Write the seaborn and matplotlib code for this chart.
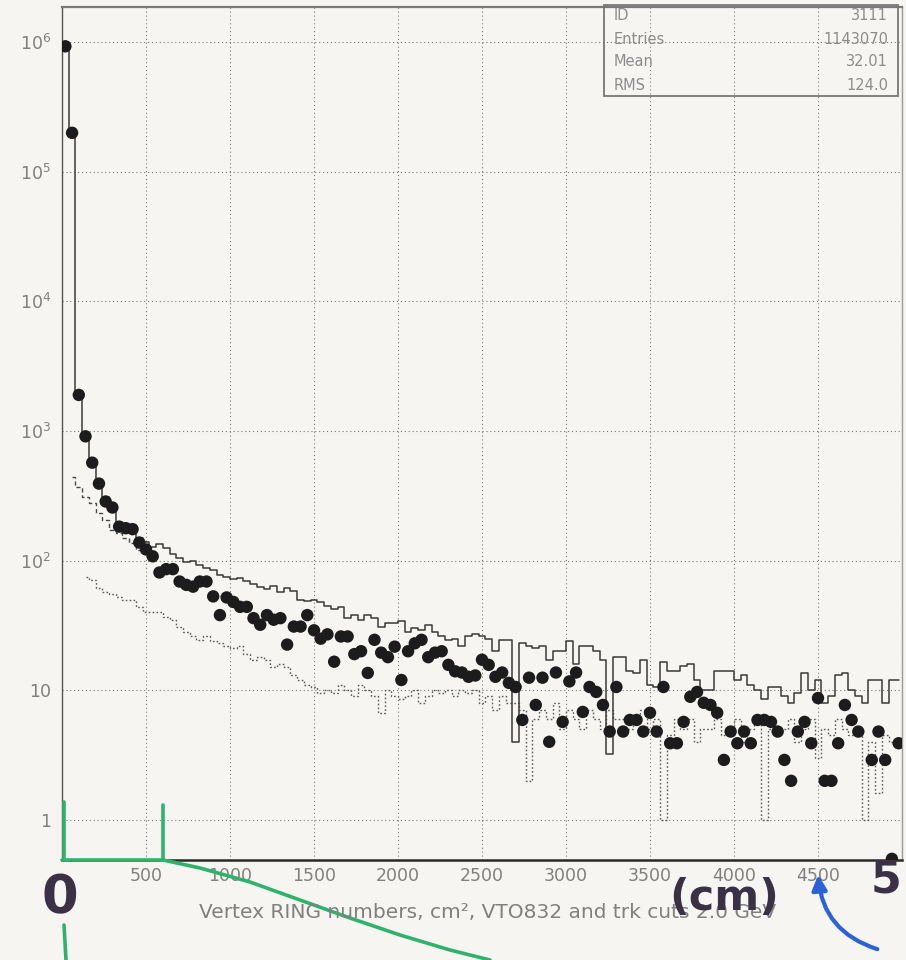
import numpy as np
import matplotlib
matplotlib.use("Agg")
import matplotlib.pyplot as plt
import seaborn as sns
from matplotlib.lines import Line2D
from matplotlib.patches import Rectangle, FancyArrowPatch
from matplotlib.ticker import FixedLocator, NullFormatter, LogLocator

# ---- histogram data: 125 bins of 40 cm between 0 and 5000 ----
bin_lo, bin_hi, n_bins = 0.0, 5000.0, 125

# data points (filled circles)
data_counts = [
    930000, 200000, 1900, 910, 570, 393, 286, 257, 183, 178,
    175, 138, 122, 108, 81, 86, 86, 69, 65, 63,
    69, 69, 53, 38, 52, 48, 44, 44, 36, 32,
    38, 35, 36, 22.5, 31, 31, 38, 29, 25, 27,
    16.6, 26, 26, 19, 20, 13.6, 24.5, 19.5, 18, 21.7,
    12, 20, 23, 24.5, 18, 19.5, 20, 15.7, 14, 13.7,
    12.7, 13, 17.2, 15.7, 12.7, 13.7, 11.4, 10.6, 5.9, 12.5,
    7.7, 12.5, 4.0, 13.7, 5.7, 11.7, 13.7, 6.8, 10.6, 9.7,
    7.7, 4.8, 10.6, 4.8, 5.9, 5.9, 4.8, 6.7, 4.8, 10.6,
    3.9, 3.9, 5.7, 8.9, 9.7, 8.0, 7.7, 6.7, 2.9, 4.8,
    3.9, 4.8, 3.9, 5.9, 5.9, 5.7, 4.8, 2.9, 2.0, 4.8,
    5.7, 3.9, 8.7, 2.0, 2.0, 3.9, 7.7, 5.9, 4.8, np.nan,
    2.9, 4.8, 2.9, 0.5, 3.9,
]

# total histogram (solid line)
total_counts = [
    930000, 200000, 2000, 960, 600, 420, 310, 270, 200, 190,
    185, 150, 140, 128, 135, 125, 112, 105, 98, 100,
    92, 88, 84, 78, 75, 72, 74, 70, 66, 63,
    60, 64, 57, 62, 58, 50, 49, 50, 48, 45,
    42, 44, 36, 38, 35, 38, 36, 31, 33, 33,
    34, 28, 30, 29, 32, 28, 26, 24.5, 25, 22,
    26, 27, 26, 25, 20, 24.5, 24.5, 4, 23, 22,
    21, 22, 17, 20, 20, 24, 16, 22, 22, 20,
    17, 3.2, 18, 18, 14, 13.7, 17, 11, 10.5, 16.6,
    14, 14, 15.5, 16, 12, 10, 10, 14, 14, 14,
    12, 13, 11, 10, 8.5, 10.5, 10.5, 9, 8, 9.5,
    13.7, 10, 12, 8, 9, 13, 13.7, 10, 9, 8,
    12, 12, 8, 12, 12,
]

# background histogram (dotted line), first filled bin is bin 3
bkg_first_bin = 3
bkg_counts = [
    75, 71, 62, 57, 55, 52, 50, 50, 44, 40,
    40, 40, 37, 35, 31, 28, 26, 24.5, 26, 24,
    23, 22, 21, 22, 19, 17, 18, 17, 15, 16,
    15, 13, 12, 11, 10.6, 9.5, 10, 9.5, 11, 10,
    9, 11, 10, 9, 6.7, 10, 9, 8.5, 9, 10,
    8, 9, 10, 9.5, 10, 9, 10, 9.5, 10, 8,
    9, 7, 9, 8, 8, 7, 2, 6, 7, 6,
    8, 5, 7, 6, 5, 7, 6, 5, 7, 6,
    6, 5, 6, 7, 5, 6, 1.0, 4.5, 6, 5,
    6, 4, 5, 5, 6, 4.5, 5, 6, 4, 5,
    6, 1.0, 5, 4.5, 5, 6, 4, 5, 6, 3,
    5, 4.5, 6, 5, 4.5, 5, 1.0, 4, 1.6, 4.5,
    4, 4,
]

# fitted low-radius component (dashed), bins 1..13
fit_first_bin = 1
fit_counts = [440, 370, 310, 280, 235, 207, 173, 164, 150, 138, 121, 115, 105]

# statistics box
stat_names = ["ID", "Entries", "Mean", "RMS"]
stat_values = ["3111", "1143070", "32.01", "124.0"]

x_tick_values = [500, 1000, 1500, 2000, 2500, 3000, 3500, 4000, 4500]
y_tick_values = [1, 10, 100, 1000, 10000, 100000, 1000000]
y_tick_labels = ["1", "10", r"10$^{2}$", r"10$^{3}$", r"10$^{4}$", r"10$^{5}$", r"10$^{6}$"]
x_title = "Vertex RING numbers, cm\u00b2, VTO832 and trk cuts 2.0 GeV"

# ---- figure ----
sns.set_style("white")
plt.rcParams["font.family"] = ["DejaVu Sans"]

W, H = 906, 960
paper = "#f6f5f2"
ink = "#1c1c1c"
label_grey = "#808080"

fig = plt.figure(figsize=(W / 100, H / 100), dpi=100, facecolor=paper)
ax = fig.add_axes([62 / W, 1 - 860 / H, (902 - 62) / W, (860 - 7) / H])
ax.set_facecolor(paper)
ax.set_yscale("log")

edges = np.linspace(bin_lo, bin_hi, n_bins + 1)
centers = 0.5 * (edges[:-1] + edges[1:])

# background histogram (dotted)
bx = centers[bkg_first_bin:bkg_first_bin + len(bkg_counts)]
sns.lineplot(x=bx, y=bkg_counts, ax=ax, drawstyle="steps-mid", color="#5a5a5a",
             linewidth=1.0, linestyle=(0, (1.2, 1.6)), estimator=None, sort=False)

# fitted component (dashed)
fx = centers[fit_first_bin:fit_first_bin + len(fit_counts)]
sns.lineplot(x=fx, y=fit_counts, ax=ax, drawstyle="steps-mid", color="#4a4a4a",
             linewidth=1.0, linestyle=(0, (3, 2)), estimator=None, sort=False)

# total histogram (solid)
sns.lineplot(x=centers, y=total_counts, ax=ax, drawstyle="steps-mid", color="#3a3a3a",
             linewidth=1.1, estimator=None, sort=False)

# data points
sns.scatterplot(x=centers, y=data_counts, ax=ax, s=80, color=ink, edgecolor="none",
                linewidth=0, zorder=5, clip_on=True)

# ---- axes ----
ax.set_xlim(bin_lo, bin_hi)
ax.set_ylim(0.49, 1.87e6)

ax.xaxis.set_major_locator(FixedLocator(np.arange(0, 5001, 500)))
ax.xaxis.set_minor_locator(FixedLocator(np.arange(0, 5001, 100)))
ax.set_xticklabels(["" if v not in x_tick_values else str(v) for v in np.arange(0, 5001, 500)])
ax.yaxis.set_major_locator(FixedLocator(y_tick_values))
ax.set_yticklabels(y_tick_labels)
ax.yaxis.set_minor_locator(LogLocator(base=10, subs=np.arange(2, 10)))
ax.yaxis.set_minor_formatter(NullFormatter())

ax.tick_params(axis="x", which="major", direction="in", length=11, width=0.9,
               color="#333333", labelsize=12.5, labelcolor=label_grey, pad=5)
ax.tick_params(axis="x", which="minor", direction="in", length=5, width=0.8, color="#444444")
ax.tick_params(axis="y", which="major", direction="in", length=9, width=0.9,
               color="#444444", labelsize=12.5, labelcolor=label_grey, pad=8)
ax.tick_params(axis="y", which="minor", direction="in", length=4, width=0.8, color="#555555")

ax.grid(True, which="major", color="#777777", linewidth=0.8, linestyle=(0, (1, 2.5)))

for side, col, lw in [("bottom", "#2a2a2a", 1.8), ("left", "#555555", 1.0),
                      ("top", "#7a7a7a", 1.6), ("right", "#9a9a9a", 1.0)]:
    ax.spines[side].set_color(col)
    ax.spines[side].set_linewidth(lw)

ax.set_xlabel("")
ax.set_ylabel("")
fig.text(488 / W, 1 - 913 / H, x_title, ha="center", va="center",
         fontsize=14.5, color=label_grey)

# ---- statistics box ----
bx0, by0, bx1, by1 = 604, 5, 898, 96
fig.add_artist(Rectangle((bx0 / W, 1 - by1 / H), (bx1 - bx0) / W, (by1 - by0) / H,
                         transform=fig.transFigure, fill=False, edgecolor="#777777",
                         linewidth=1.3))
row_y = [16, 39, 62, 85]
for name, val, yy in zip(stat_names, stat_values, row_y):
    fig.text(614 / W, 1 - yy / H, name, ha="left", va="center", fontsize=10.5,
             color="#8c8c8c")
    fig.text(888 / W, 1 - yy / H, val, ha="right", va="center", fontsize=10.5,
             color="#8c8c8c")

# ---- pen marks on the printout ----
def px(x, y):
    return x / W, 1 - y / H

green = "#2fb36c"
for xs, ys in [([64, 64], [802, 860]), ([64, 66], [925, 960]),
               ([62, 163], [860, 860]), ([163, 163], [805, 860])]:
    fig.add_artist(Line2D([x / W for x in xs], [1 - y / H for y in ys],
                          transform=fig.transFigure, color=green, linewidth=2.6,
                          solid_capstyle="round"))
curve_x = [163, 200, 250, 300, 350, 400, 450, 490]
curve_y = [860, 868, 882, 900, 918, 935, 950, 960]
fig.add_artist(Line2D([x / W for x in curve_x], [1 - y / H for y in curve_y],
                      transform=fig.transFigure, color=green, linewidth=2.6))

pen = "#3b3146"
fig.text(*px(60, 898), "0", ha="center", va="center", fontsize=38,
         color=pen, family="DejaVu Sans", fontweight="bold")
fig.text(*px(886, 880), "5", ha="center", va="center", fontsize=32,
         color=pen, family="DejaVu Sans", fontweight="bold")
fig.text(*px(724, 898), "(cm)", ha="center", va="center", fontsize=31,
         color=pen, family="DejaVu Sans", fontweight="bold")

fig.add_artist(FancyArrowPatch(px(880, 950), px(818, 872), transform=fig.transFigure,
                               connectionstyle="arc3,rad=-0.35", arrowstyle="-|>",
                               mutation_scale=22, color="#2b63d6", linewidth=3))

fig.savefig("out.png", dpi=100, facecolor=paper)
